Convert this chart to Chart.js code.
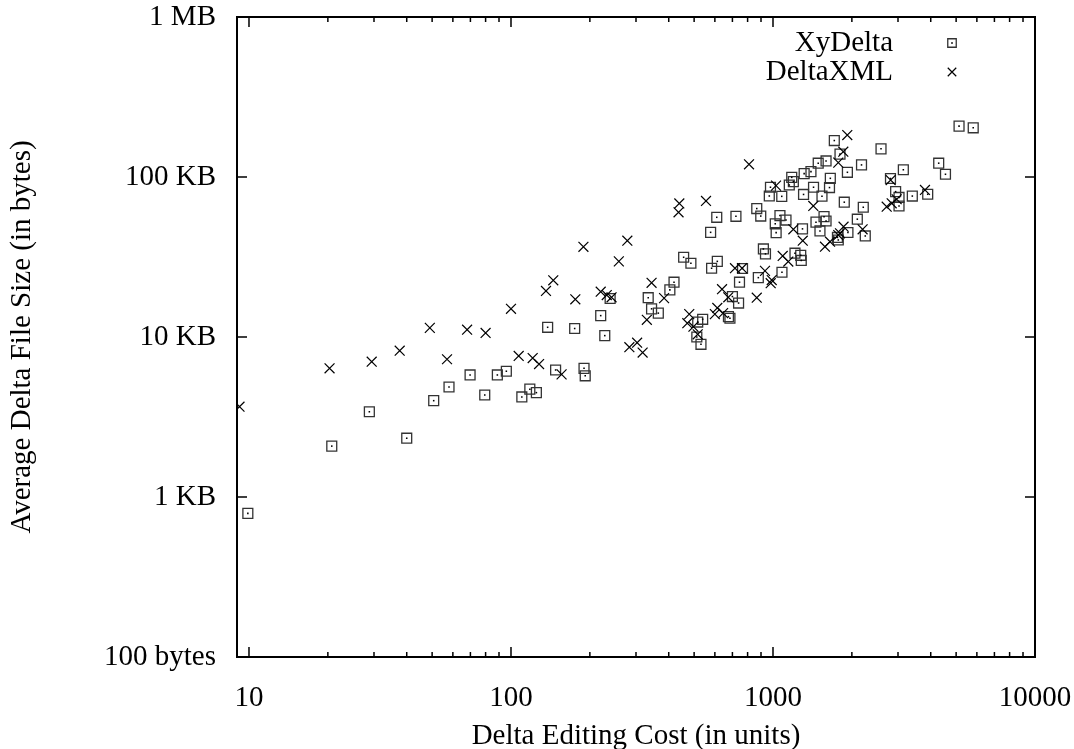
<!DOCTYPE html>
<html>
<head>
<meta charset="utf-8">
<title>Delta file size vs editing cost</title>
<script src="https://cdn.jsdelivr.net/npm/chart.js@4.4.0/dist/chart.umd.min.js"></script>
<style>
  html, body { margin: 0; padding: 0; background: #fff; }
  #wrap { width: 1074px; height: 749px; }
</style>
</head>
<body>
<div id="wrap"><canvas id="deltaChart" width="1074" height="749"></canvas></div>
<script>
// ----------------- data -----------------
// XyDelta: editing cost (units) / average delta size (bytes)
const xyDeltaCost = [9.9, 20.7, 28.8, 40, 50.7, 58, 69.8, 79.4, 88.7, 96,
  110, 118, 125, 138, 148, 175, 190, 192, 220, 228,
  239, 334, 344, 365, 404, 419, 456, 486, 516, 539,
  512, 531, 578, 583, 613, 610, 722, 676, 685, 700,
  739, 745, 765, 867, 898, 879, 919, 936, 978, 968,
  1080, 1063, 1020, 1028, 1121, 1082, 1154, 1179, 1196, 1213,
  1276, 1282, 1296, 1308, 1315, 1396, 1428, 1459, 1488, 1511,
  1538, 1566, 1594, 1594, 1643, 1655, 1714, 1762, 1775, 1802,
  1871, 1923, 1932, 2098, 2177, 2211, 2250, 2584, 2808, 2938,
  3027, 3027, 3144, 3402, 3895, 4290, 4553, 5130, 5810];
const xyDeltaSize = [790, 2080, 3410, 2330, 4000, 4870, 5790, 4340, 5790, 6110,
  4220, 4720, 4490, 11500, 6220, 11300, 6370, 5720, 13600, 10200,
  17400, 17600, 15000, 14100, 19700, 22000, 31500, 28900, 12400, 12900,
  10000, 9000, 45100, 26900, 29700, 56000, 56800, 13400, 13100, 17900,
  16300, 22000, 26800, 63500, 57000, 23500, 35500, 33100, 86300, 76100,
  75700, 57400, 51000, 44900, 53800, 25400, 89100, 99500, 93500, 33400,
  32400, 30100, 47400, 77800, 105000, 108000, 86300, 52200, 122000, 46000,
  75900, 56500, 126000, 53100, 85900, 98100, 169000, 41900, 40400, 139000,
  69600, 107000, 45000, 54500, 119000, 64700, 42800, 150000, 97900, 81000,
  74500, 65900, 111000, 76000, 78000, 122000, 104000, 208000, 203000];

// DeltaXML
const deltaXmlCost = [9.2, 20.3, 29.4, 37.6, 49, 57, 68, 80, 100, 107,
  121, 128, 136, 145, 156, 176, 189, 220, 232, 242,
  258, 278, 283, 303, 318, 330, 344, 384, 436, 439,
  471, 479, 497, 516, 555, 600, 613, 639, 645, 675,
  716, 762, 810, 867, 932, 980, 989, 1027, 1089, 1144,
  1196, 1299, 1425, 1579, 1651, 1775, 1775, 1802, 1855, 1859,
  1921, 2198, 2716, 2812, 2838, 2965, 3802];
const deltaXmlSize = [3670, 6370, 7010, 8210, 11400, 7260, 11100, 10600, 15000, 7610,
  7390, 6780, 19400, 22600, 5840, 17200, 36600, 19200, 18300, 17700,
  29700, 40000, 8630, 9210, 8000, 12800, 21800, 17500, 60200, 68300,
  12200, 13900, 11600, 10400, 70800, 13900, 15200, 19900, 14100, 17700,
  26900, 26900, 120000, 17600, 25900, 21700, 22700, 88300, 32100, 29600,
  47100, 40000, 65900, 36700, 39400, 43400, 123000, 44500, 144000, 48900,
  183000, 47100, 65200, 95700, 68500, 72600, 83000];

const xTicks = [10, 100, 1000, 10000];
const yTicks = [100, 1000, 10000, 100000, 1000000];
const yTickLabels = ['100 bytes', '1 KB', '10 KB', '100 KB', '1 MB'];
const seriesNames = ['XyDelta', 'DeltaXML'];

function toPoints(xs, ys) {
  return xs.map((x, i) => ({x: x, y: ys[i]}));
}

const FONT = 'Liberation Serif, Times New Roman, serif';

// scales should not push the plot area in for overhanging labels
function noOverhang(s) {
  s.paddingTop = 0; s.paddingBottom = 0; s.paddingLeft = 0; s.paddingRight = 0;
}

// ----------------- frame + inward ticks like gnuplot -----------------
const frameTicks = {
  id: 'frameTicks',
  afterDatasetsDraw(chart) {
    const {ctx, chartArea: a, scales} = chart;
    ctx.save();
    ctx.strokeStyle = '#000';
    ctx.lineWidth = 1.5;
    ctx.beginPath();
    // x ticks (bottom + top)
    for (let d = 1; d <= 4; d++) {
      for (let m = 1; m <= 9; m++) {
        const v = m * Math.pow(10, d);
        if (v < scales.x.min || v > scales.x.max) continue;
        const px = scales.x.getPixelForValue(v);
        const len = m === 1 ? 10 : 5;
        ctx.moveTo(px, a.bottom); ctx.lineTo(px, a.bottom - len);
        ctx.moveTo(px, a.top); ctx.lineTo(px, a.top + len);
      }
    }
    // y ticks (left + right), majors only
    yTicks.forEach(v => {
      const py = scales.y.getPixelForValue(v);
      ctx.moveTo(a.left, py); ctx.lineTo(a.left + 10, py);
      ctx.moveTo(a.right, py); ctx.lineTo(a.right - 10, py);
    });
    ctx.stroke();
    ctx.lineWidth = 2;
    ctx.strokeRect(a.left, a.top, a.right - a.left, a.bottom - a.top);
    ctx.restore();
  }
};

// ----------------- key in the top right corner -----------------
const keyBox = {
  id: 'keyBox',
  afterDraw(chart) {
    const {ctx, chartArea: a} = chart;
    const textRight = a.right - 142;
    const symX = a.right - 83;
    const rows = [
      {label: seriesNames[0], y: a.top + 26, style: 'rect', color: '#333', w: 1.3},
      {label: seriesNames[1], y: a.top + 55, style: 'crossRot', color: '#000', w: 1.2}
    ];
    ctx.save();
    ctx.font = '29px ' + FONT;
    ctx.textAlign = 'right';
    ctx.textBaseline = 'middle';
    rows.forEach(r => {
      ctx.fillStyle = '#000';
      ctx.fillText(r.label, textRight, r.y);
      ctx.strokeStyle = r.color;
      ctx.fillStyle = 'rgba(0,0,0,0)';
      ctx.lineWidth = r.w;
      Chart.helpers.drawPoint(ctx, {pointStyle: r.style, radius: 6, rotation: 0, borderWidth: r.w}, symX, r.y);
      if (r.style === 'rect') {
        ctx.fillStyle = '#000';
        ctx.fillRect(symX - 0.8, r.y - 0.8, 1.6, 1.6);
      }
    });
    ctx.restore();
  }
};

const ctx = document.getElementById('deltaChart').getContext('2d');
const deltaChart = new Chart(ctx, {
  type: 'scatter',
  data: {
    datasets: [
      {
        label: seriesNames[1],
        data: toPoints(deltaXmlCost, deltaXmlSize),
        pointStyle: 'crossRot',
        pointRadius: 7,
        borderColor: '#000',
        borderWidth: 1.2,
        order: 0
      },
      {
        label: seriesNames[0] + ' dot',
        data: toPoints(xyDeltaCost, xyDeltaSize),
        pointStyle: 'rect',
        pointRadius: 1.1,
        backgroundColor: '#000',
        borderWidth: 0,
        order: 1
      },
      {
        label: seriesNames[0],
        data: toPoints(xyDeltaCost, xyDeltaSize),
        pointStyle: 'rect',
        pointRadius: 7,
        borderColor: '#333',
        backgroundColor: 'rgba(0,0,0,0)',
        borderWidth: 1.3,
        order: 2
      }
    ]
  },
  options: {
    responsive: false,
    animation: false,
    devicePixelRatio: 1,
    layout: {padding: {left: 0, top: 17, right: 39, bottom: 0}},
    plugins: {
      legend: {display: false},
      tooltip: {enabled: false}
    },
    scales: {
      x: {
        type: 'logarithmic',
        min: 9,
        max: 10000,
        border: {display: false},
        grid: {display: false, drawTicks: false},
        afterBuildTicks: s => { s.ticks = xTicks.map(v => ({value: v})); },
        afterFit: s => { s.height = 92; noOverhang(s); },
        ticks: {
          color: '#000',
          padding: 24,
          maxRotation: 0,
          autoSkip: false,
          font: {family: FONT, size: 29},
          callback: v => String(v)
        },
        title: {
          display: true,
          text: 'Delta Editing Cost (in units)',
          color: '#000',
          padding: {top: 0, bottom: 0},
          font: {family: FONT, size: 29, lineHeight: 0.9}
        }
      },
      y: {
        type: 'logarithmic',
        min: 100,
        max: 1000000,
        border: {display: false},
        grid: {display: false, drawTicks: false},
        afterBuildTicks: s => { s.ticks = yTicks.map(v => ({value: v})); },
        afterFit: s => { s.width = 237; noOverhang(s); },
        ticks: {
          color: '#000',
          padding: 21,
          autoSkip: false,
          font: {family: FONT, size: 29},
          callback: v => yTickLabels[yTicks.indexOf(v)]
        },
        title: {
          display: true,
          text: 'Average Delta File Size (in bytes)',
          color: '#000',
          padding: {top: 8, bottom: 0},
          font: {family: FONT, size: 29, lineHeight: 1}
        }
      }
    }
  },
  plugins: [frameTicks, keyBox]
});
</script>
</body>
</html>
